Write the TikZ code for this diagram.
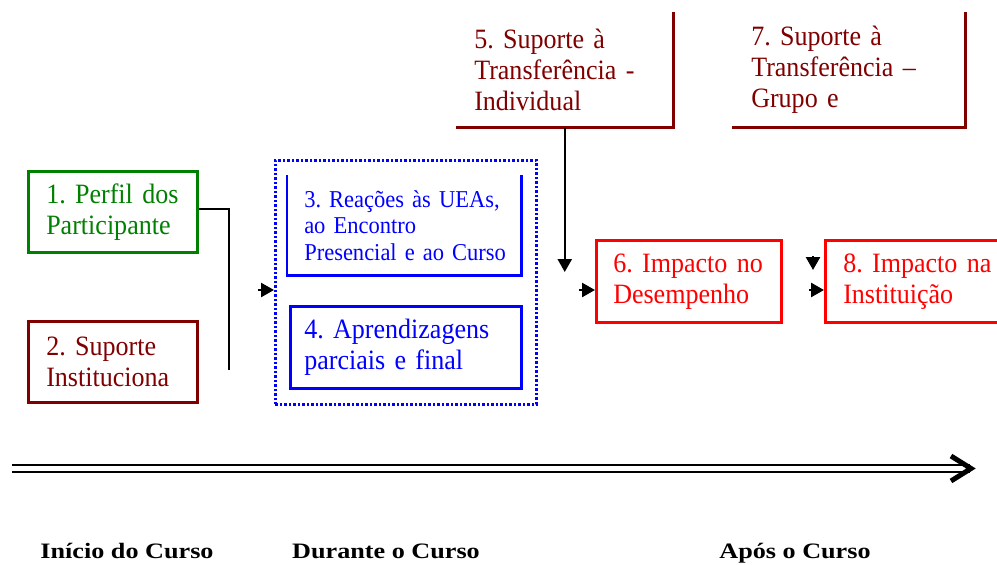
\documentclass[tikz,border=0pt]{standalone}
\usepackage{fontspec}
\setmainfont{Liberation Serif}
\newfontfamily\boxfont[FakeStretch=0.93]{Liberation Serif}
\usetikzlibrary{arrows.meta}
\definecolor{cgreen}{RGB}{0,128,0}
\definecolor{cdred}{RGB}{128,0,0}
\definecolor{cblue}{RGB}{0,0,255}
\definecolor{cred}{RGB}{255,0,0}
\tikzset{
  box/.style={rectangle, line width=2.5pt, anchor=north west, align=left,
    inner ysep=0pt, font=\boxfont\fontsize{28}{31}\selectfont\frenchspacing},
  smallbox/.style={box, font=\boxfont\fontsize{24.2}{26.5}\selectfont\frenchspacing},
  grpbox/.style={rectangle, draw=cblue, line width=2.5pt, dash pattern=on 2.5pt off 2pt, anchor=north west},
  conn/.style={draw=black, line width=2.5pt},
  tip/.style={-{Triangle[length=13pt,width=14pt]}},
  timeline/.style={draw=black, line width=2.5pt, double=white, double distance=4.5pt},
  lbl/.style={anchor=base, inner sep=0pt, font=\fontsize{22}{26}\selectfont\bfseries}
}
\newcommand{\wide}[1]{\scalebox{1.19}[1]{#1}}
\begin{document}
\begin{tikzpicture}[x=1pt,y=-1pt]
\useasboundingbox (0,0) rectangle (997,565);
\clip (0,0) rectangle (997,565);
\fill[white] (0,0) rectangle (997,565);

% group frame
\node[grpbox, minimum width=261pt, minimum height=244pt] (grp) at (274,159) {};

% boxes
\node[box, draw=cgreen, text=cgreen, minimum width=169pt, minimum height=81pt,
  inner xsep=18pt, text width=133pt] (b1) at (27,170) {\mbox{1. Perfil dos}\\\mbox{Participante}};
\node[box, draw=cdred, text=cdred, minimum width=169pt, minimum height=81pt,
  inner xsep=18pt, text width=133pt] (b2) at (27,320) {\mbox{2. Suporte}\\\mbox{Instituciona}};
\node[smallbox, text=cblue, minimum width=232pt, minimum height=98pt,
  inner xsep=16pt, text width=200pt] (b3) at (287,175) {\mbox{3. Reações às UEAs,}\\\mbox{ao Encontro}\\\mbox{Presencial e ao Curso}};
\draw[cblue, line width=2.5pt] (b3.north west) -- (b3.south west) -- (b3.south east) -- (b3.north east);
\node[box, draw=cblue, text=cblue, minimum width=231pt, minimum height=82pt,
  inner xsep=14pt, text width=203pt] (b4) at (289,305) {\mbox{4. Aprendizagens}\\\mbox{parciais e final}};
\node[box, text=cdred, minimum width=215pt, minimum height=113pt,
  inner xsep=17pt, text width=181pt] (b5) at (456,12) {\mbox{5. Suporte à}\\\mbox{Transferência -}\\\mbox{Individual}};
\draw[cdred, line width=2.5pt] (b5.north east) -- (b5.south east) -- (b5.south west);
\node[box, text=cdred, minimum width=231pt, minimum height=113pt,
  inner xsep=18pt, text width=195pt] (b7) at (732,12) {\mbox{7. Suporte à}\\\mbox{Transferência –}\\\mbox{Grupo e}};
\draw[cdred, line width=2.5pt] (b7.north east) -- (b7.south east) -- (b7.south west);
\node[box, draw=cred, text=cred, minimum width=185pt, minimum height=82pt,
  inner xsep=17pt, text width=151pt] (b6) at (595,239) {\mbox{6. Impacto no}\\\mbox{Desempenho}};
\node[box, draw=cred, text=cred, minimum width=185pt, minimum height=82pt,
  inner xsep=18pt, text width=149pt] (b8) at (824,239) {\mbox{8. Impacto na}\\\mbox{Instituição}};

% connectors
\coordinate (e1) at (229,370);
\draw[conn] ([yshift=3pt]b1.east) -| (e1);
\coordinate (a1) at (258,290);
\draw[conn, tip] (a1) -- (a1 -| grp.west);
\coordinate (d5) at (564,272);
\draw[conn, tip] (b5.south) -- (b5.south |- d5);
\coordinate (a2) at (579,290);
\draw[conn, tip] (a2) -- (a2 -| b6.west);
\coordinate (c3) at (813,256);
\coordinate (c4) at (813,270);
\draw[conn, tip] (c3) -- (c4);
\coordinate (a3) at (809,290);
\draw[conn, tip] (a3) -- (a3 -| b8.west);

% timeline
\coordinate (t0) at (12,468.5);
\coordinate (t1) at (970,468.5);
\draw[timeline] (t0) -- (t1);
\draw[line width=5pt, line join=miter] (951,456) -- (971,468.5) -- (951,481);

% labels
\node[lbl] (l1) at (127,558) {\wide{Início do Curso}};
\node[lbl] (l2) at (386,558) {\wide{Durante o Curso}};
\node[lbl] (l3) at (795,558) {\wide{Após o Curso}};
\end{tikzpicture}
\end{document}
